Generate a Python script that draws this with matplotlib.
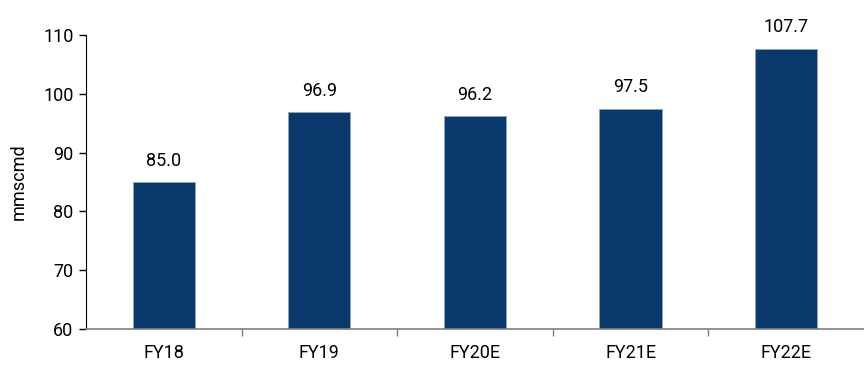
import matplotlib
matplotlib.use("Agg")
import matplotlib.pyplot as plt

categories = ["FY18", "FY19", "FY20E", "FY21E", "FY22E"]
values = [85.0, 96.9, 96.2, 97.5, 107.7]
yticks = [60, 70, 80, 90, 100, 110]

plt.rcParams["font.family"] = ["Roboto", "DejaVu Sans"]
FS = 13

fig = plt.figure(figsize=(8.64, 3.65), dpi=100)
ax = fig.add_axes([0.0995, 0.0986, 0.9005, 0.8055])

x = list(range(len(categories)))
ax.bar(x, values, width=0.4, bottom=0, color="#0a3a6b",
       edgecolor="#8fa6c2", linewidth=0.6, zorder=2)
ax.set_ylim(60, 110)
ax.set_xlim(-0.5, len(categories) - 0.5)
ax.set_yticks(yticks)
ax.set_yticklabels([str(t) for t in yticks], fontsize=FS)
ax.set_xticks(x)
ax.set_xticklabels(categories, fontsize=FS)
ax.tick_params(axis="x", length=0, pad=11)
ax.set_xticks([i + 0.5 for i in x[:-1]], minor=True)
ax.tick_params(axis="x", which="minor", length=5, color="#808080", width=1)
ax.tick_params(axis="y", length=5, width=1, color="black", pad=4)

for i, v in zip(x, values):
    ax.annotate(f"{v:.1f}", (i, v), xytext=(0, 9), textcoords="offset points",
                ha="center", va="bottom", fontsize=FS)

for s in ["top", "right"]:
    ax.spines[s].set_visible(False)
ax.spines["left"].set_color("black")
ax.spines["bottom"].set_color("#808080")
ax.spines["bottom"].set_linewidth(1.2)
ax.set_ylabel("mmscmd", fontsize=FS, labelpad=11)

fig.savefig("out.png", dpi=100)
